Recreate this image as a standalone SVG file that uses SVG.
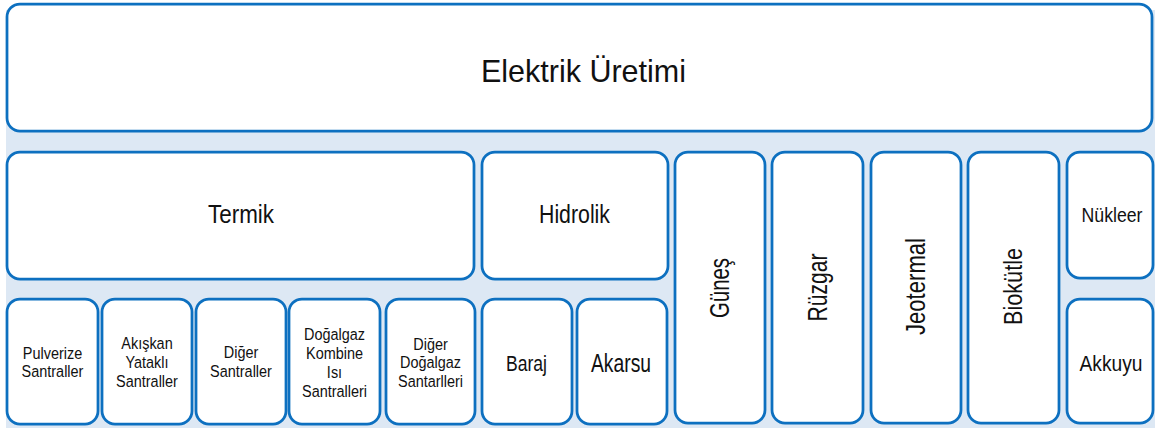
<svg xmlns="http://www.w3.org/2000/svg" width="1155" height="428" viewBox="0 0 1155 428">
  <style>
    .box { fill: #ffffff; stroke: #0d70c0; stroke-width: 2.75; }
    text { font-family: "Liberation Sans", Arial, sans-serif; fill: #111111; text-anchor: middle; }
    .sm { font-size: 17px; }
  </style>
  <!-- panel background -->
  <rect x="6" y="10" width="1149" height="418" fill="#dde8f4"/>

  <g id="elektrik-uretimi">
    <rect class="box" x="7" y="4" width="1145" height="127" rx="13"/>
    <text x="583.5" y="82" font-size="32" textLength="205" lengthAdjust="spacingAndGlyphs">Elektrik Üretimi</text>
  </g>

  <g id="termik">
    <rect class="box" x="7" y="152" width="467" height="127" rx="13"/>
    <text x="241" y="223" font-size="25" textLength="66" lengthAdjust="spacingAndGlyphs">Termik</text>
  </g>

  <g id="hidrolik">
    <rect class="box" x="482" y="152" width="186" height="127" rx="13"/>
    <text x="574.5" y="223" font-size="25" textLength="71" lengthAdjust="spacingAndGlyphs">Hidrolik</text>
  </g>

  <g id="gunes">
    <rect class="box" x="675" y="152" width="90" height="271" rx="13"/>
    <text transform="translate(729 288) rotate(-90)" font-size="28" textLength="60" lengthAdjust="spacingAndGlyphs">Güneş</text>
  </g>

  <g id="ruzgar">
    <rect class="box" x="772" y="152" width="91" height="271" rx="13"/>
    <text transform="translate(826.5 287.5) rotate(-90)" font-size="28" textLength="68" lengthAdjust="spacingAndGlyphs">Rüzgar</text>
  </g>

  <g id="jeotermal">
    <rect class="box" x="871" y="152" width="90" height="271" rx="13"/>
    <text transform="translate(925 286.5) rotate(-90)" font-size="28" textLength="97" lengthAdjust="spacingAndGlyphs">Jeotermal</text>
  </g>

  <g id="biokutle">
    <rect class="box" x="968" y="152" width="91" height="271" rx="13"/>
    <text transform="translate(1021.5 286.5) rotate(-90)" font-size="26" textLength="77" lengthAdjust="spacingAndGlyphs">Biokütle</text>
  </g>

  <g id="nukleer">
    <rect class="box" x="1067" y="152" width="86" height="126" rx="13"/>
    <text x="1112" y="222" font-size="21" textLength="61" lengthAdjust="spacingAndGlyphs">Nükleer</text>
  </g>

  <g id="akkuyu">
    <rect class="box" x="1067" y="299" width="86" height="124" rx="13"/>
    <text x="1111" y="371" font-size="22" textLength="63" lengthAdjust="spacingAndGlyphs">Akkuyu</text>
  </g>

  <g id="pulverize-santraller">
    <rect class="box" x="7" y="299" width="91" height="125" rx="13"/>
    <text class="sm" transform="translate(52.5 358.5) scale(.85 1)"><tspan x="0">Pulverize</tspan><tspan x="0" dy="19">Santraller</tspan></text>
  </g>

  <g id="akiskan-yatakli-santraller">
    <rect class="box" x="102" y="299" width="90" height="125" rx="13"/>
    <text class="sm" transform="translate(147 349) scale(.85 1)"><tspan x="0">Akışkan</tspan><tspan x="0" dy="19">Yataklı</tspan><tspan x="0" dy="19">Santraller</tspan></text>
  </g>

  <g id="diger-santraller">
    <rect class="box" x="196" y="299" width="90" height="125" rx="13"/>
    <text class="sm" transform="translate(241 358) scale(.85 1)"><tspan x="0">Diğer</tspan><tspan x="0" dy="19">Santraller</tspan></text>
  </g>

  <g id="dogalgaz-kombine-isi-santralleri">
    <rect class="box" x="289" y="299" width="91" height="125" rx="13"/>
    <text class="sm" transform="translate(334.5 340) scale(.85 1)"><tspan x="0">Doğalgaz</tspan><tspan x="0" dy="19">Kombine</tspan><tspan x="0" dy="19">Isı</tspan><tspan x="0" dy="19">Santralleri</tspan></text>
  </g>

  <g id="diger-dogalgaz-santarlleri">
    <rect class="box" x="386" y="299" width="89" height="125" rx="13"/>
    <text class="sm" transform="translate(430.5 350) scale(.85 1)" font-size="16.5"><tspan x="0">Diğer</tspan><tspan x="0" dy="18.3">Doğalgaz</tspan><tspan x="0" dy="18.3">Santarlleri</tspan></text>
  </g>

  <g id="baraj">
    <rect class="box" x="482" y="299" width="90" height="125" rx="13"/>
    <text x="526.5" y="371" font-size="22" textLength="41" lengthAdjust="spacingAndGlyphs">Baraj</text>
  </g>

  <g id="akarsu">
    <rect class="box" x="577" y="299" width="90" height="125" rx="13"/>
    <text x="621" y="371.5" font-size="25" textLength="60" lengthAdjust="spacingAndGlyphs">Akarsu</text>
  </g>

  <!-- the layout has no connector lines -->
  <g id="connectors"/>
</svg>
